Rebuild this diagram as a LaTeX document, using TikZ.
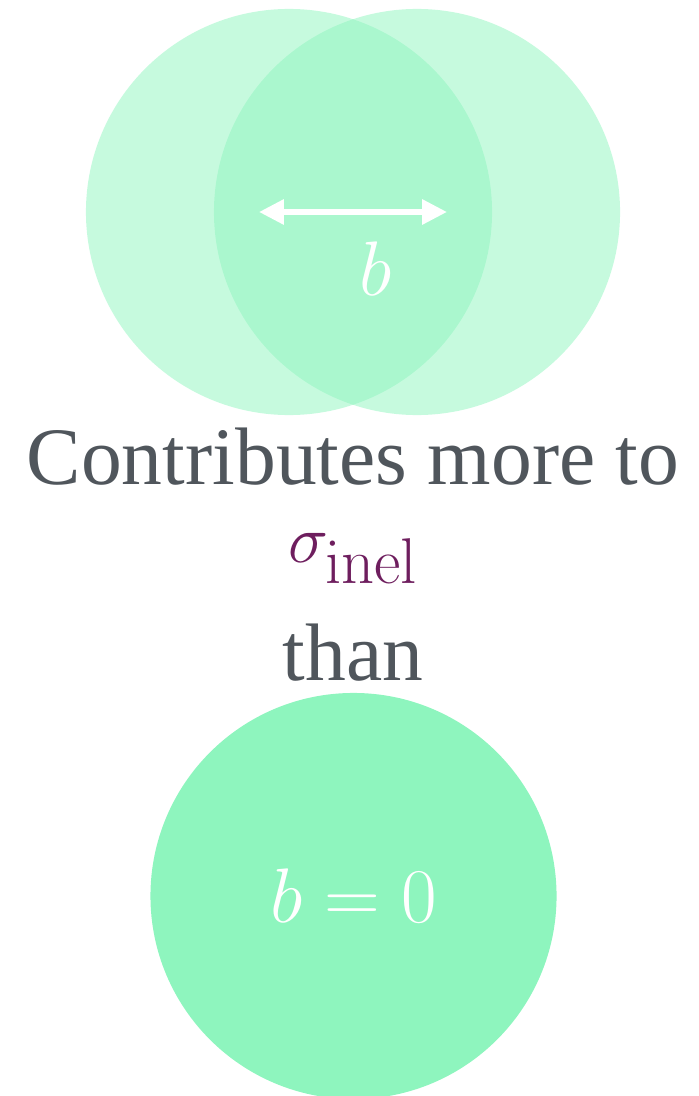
\RequirePackage{fix-cm}
\documentclass[tikz,border=0pt]{standalone}
\usepackage[no-math]{fontspec}
\setmainfont{Liberation Serif}
\usetikzlibrary{arrows.meta}

\definecolor{mint}{HTML}{8EF5BE}
\definecolor{slate}{HTML}{50565C}
\definecolor{plum}{HTML}{6E1E5E}

\DeclareMathSizes{48}{48}{46}{34}

\newcommand*{\midx}{353}
\newcommand*{\diam}{10.15cm}

\begin{document}
\begin{tikzpicture}
[
	x=0.025cm,
	y=-0.025cm,
	disc/.style={circle,fill=mint,inner sep=0pt,minimum size=\diam},
	halfdisc/.style={disc,fill opacity=0.5},
	words/.style={anchor=base,text=slate,font=\fontsize{58}{68}\selectfont},
	mathlbl/.style={text=white,font=\fontsize{55}{64}\selectfont},
	span/.style={white,line width=4pt,{Triangle[length=0.62cm,width=0.6cm]}-{Triangle[length=0.62cm,width=0.6cm]}}
]

	\useasboundingbox (0,0) rectangle (698,1096);

	% two overlapping nuclei
	\node[halfdisc] (nucA) at (289,212) {};
	\node[halfdisc] (nucB) at (417,212) {};

	% impact parameter
	\coordinate (bL) at (259,212);
	\coordinate (bR) at (447,212);
	\draw[span] (bL) -- (bR);
	\node[mathlbl,anchor=base] (blabel) at (376,295) {$b$};

	% caption
	\node[words] (line1) at (\midx,484) {Contributes more to};
	\node[anchor=base,text=plum,font=\fontsize{48}{56}\selectfont] (xsec) at (\midx,562) {$\sigma_{\mathrm{inel}}$};
	\node[words] (line2) at (\midx,680) {than};

	% head-on collision
	\node[disc,mathlbl] (headon) at (353.5,896) {$b=0$};

\end{tikzpicture}
\end{document}
